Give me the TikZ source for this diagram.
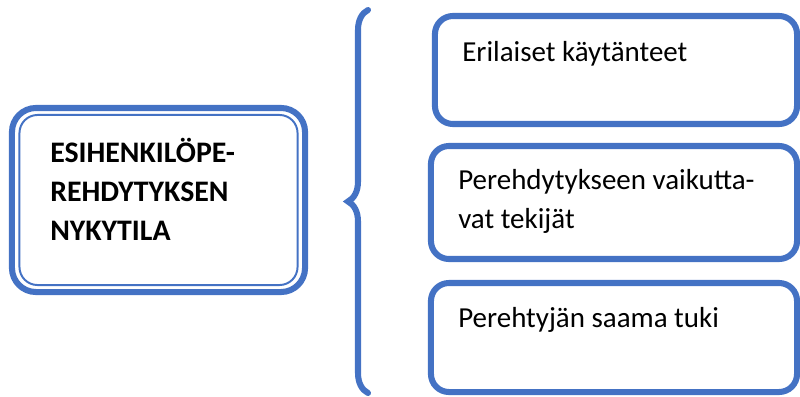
\documentclass[tikz,border=0pt]{standalone}
\usepackage{fontspec}
\setmainfont{Carlito}
\usepackage{tikz}
\usetikzlibrary{decorations.pathreplacing}
\definecolor{boxblue}{HTML}{4472C4}
\tikzset{
    mainbox/.style={
        draw=boxblue, line width=4.3pt, rounded corners=0.6cm,
        minimum width=7.325cm, minimum height=4.6cm,
        inner sep=0pt,
    },
    maininner/.style={
        draw=boxblue, line width=1.4pt, rounded corners=0.45cm,
        minimum width=6.95cm, minimum height=4.25cm,
        inner sep=0pt,
    },
    topicbox/.style={
        draw=boxblue, line width=4.3pt, rounded corners=0.45cm,
        inner sep=0pt,
    },
    maintext/.style={
        font=\fontsize{21.2}{27.5}\selectfont\bfseries,
        anchor=base west, align=left, inner sep=0pt,
    },
    topictext/.style={
        font=\fontsize{20.6}{27.5}\selectfont,
        anchor=base west, align=left, inner sep=0pt,
    },
    bracepath/.style={
        draw=boxblue, line width=4.3pt, line cap=round,
        decorate, decoration={brace, amplitude=0.5cm},
    },
}
\begin{document}
\begin{tikzpicture}[x=0.025cm, y=-0.025cm]
\useasboundingbox (0,0) rectangle (800,396);

% ═══ LEFT: current state ═══
\node[mainbox] (state) at (158.5,200) {};
\node[maininner] (stateinner) at (state.center) {};
% (base = last line)
\node[maintext] (statetext) at (50,240) {ESIHENKILÖPE-\\REHDYTYKSEN\\NYKYTILA};

% Brace
\coordinate (bracebot) at (368,393);
\coordinate (bracetop) at (368,10);
\draw[bracepath] (bracebot) -- (bracetop);

% ═══ RIGHT: topics ═══
\node[topicbox, minimum width=9.05cm, minimum height=2.7cm] (practices) at (616,70) {};
\node[topictext] (practicestext) at (462,61) {Erilaiset käytänteet};

\node[topicbox, minimum width=9.15cm, minimum height=2.825cm] (factors) at (614,202.5) {};
\node[topictext] (factorstext) at (458,228) {Perehdytykseen vaikutta-\\vat tekijät};

\node[topicbox, minimum width=9.15cm, minimum height=2.725cm] (support) at (614,337.5) {};
\node[topictext] (supporttext) at (458,327) {Perehtyjän saama tuki};

\end{tikzpicture}
\end{document}
